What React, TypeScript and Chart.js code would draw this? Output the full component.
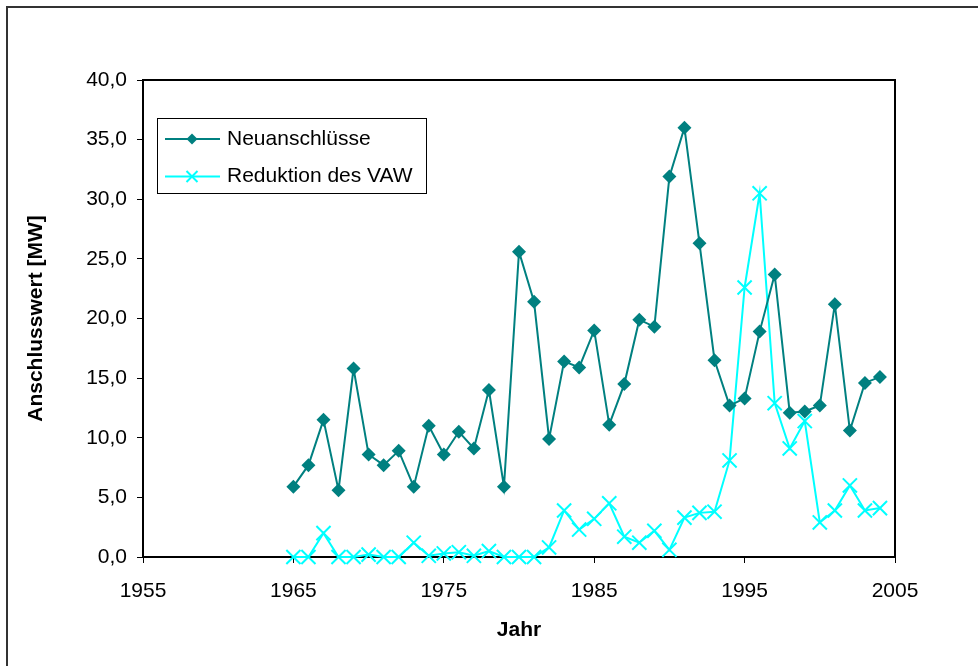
import React, { useEffect, useRef } from "react";
import { Chart, registerables } from "chart.js";

Chart.register(...registerables);

// ---- data ----
const years = [
  1965, 1966, 1967, 1968, 1969, 1970, 1971, 1972, 1973, 1974,
  1975, 1976, 1977, 1978, 1979, 1980, 1981, 1982, 1983, 1984,
  1985, 1986, 1987, 1988, 1989, 1990, 1991, 1992, 1993, 1994,
  1995, 1996, 1997, 1998, 1999, 2000, 2001, 2002, 2003, 2004,
];
const neuanschluesse = [
  5.9, 7.7, 11.5, 5.6, 15.8, 8.6, 7.7, 8.9, 5.9, 11.0,
  8.6, 10.5, 9.1, 14.0, 5.9, 25.6, 21.4, 9.9, 16.4, 15.9,
  19.0, 11.1, 14.5, 19.9, 19.3, 31.9, 36.0, 26.3, 16.5, 12.7,
  13.3, 18.9, 23.7, 12.1, 12.2, 12.7, 21.2, 10.6, 14.6, 15.1,
];
const reduktion = [
  0.0, 0.0, 2.0, 0.0, 0.0, 0.2, 0.0, 0.0, 1.2, 0.1,
  0.3, 0.4, 0.1, 0.5, 0.0, 0.0, 0.0, 0.8, 3.9, 2.3,
  3.2, 4.5, 1.7, 1.2, 2.2, 0.6, 3.3, 3.7, 3.8, 8.1,
  22.6, 30.5, 12.9, 9.1, 11.4, 2.9, 3.9, 6.0, 3.9, 4.1,
];
const seriesNames = ["Neuanschlüsse", "Reduktion des VAW"];
const xTickValues = [1955, 1965, 1975, 1985, 1995, 2005];
const yTickValues = [0, 5, 10, 15, 20, 25, 30, 35, 40];
const xTitle = "Jahr";
const yTitle = "Anschlusswert [MW]";

const TEAL = "#008080";
const CYAN = "#00FFFF";
const FONT = "'Liberation Sans', Arial, sans-serif";
const FS = 21;

const boxPlugin = {
  id: "plotBox",
  beforeDatasetsDraw(chart: any) {
    const { ctx, chartArea: a } = chart;
    ctx.save();
    ctx.strokeStyle = "#000";
    ctx.lineWidth = 2;
    ctx.strokeRect(a.left, a.top, a.right - a.left, a.bottom - a.top);
    ctx.restore();
  },
};

function drawDiamond(ctx: CanvasRenderingContext2D, x: number, y: number, r: number, color: string) {
  ctx.beginPath();
  ctx.moveTo(x, y - r);
  ctx.lineTo(x + r, y);
  ctx.lineTo(x, y + r);
  ctx.lineTo(x - r, y);
  ctx.closePath();
  ctx.fillStyle = color;
  ctx.fill();
}

function drawCross(ctx: CanvasRenderingContext2D, x: number, y: number, r: number, color: string) {
  ctx.beginPath();
  ctx.moveTo(x - r, y - r);
  ctx.lineTo(x + r, y + r);
  ctx.moveTo(x - r, y + r);
  ctx.lineTo(x + r, y - r);
  ctx.strokeStyle = color;
  ctx.lineWidth = 2;
  ctx.stroke();
}

const legendPlugin = {
  id: "insetLegend",
  afterDraw(chart: any) {
    const { ctx, chartArea: a } = chart;
    const left = a.left + 14;
    const top = a.top + 38;
    const w = 269;
    const h = 75;
    ctx.save();
    ctx.fillStyle = "#fff";
    ctx.fillRect(left, top, w, h);
    ctx.strokeStyle = "#000";
    ctx.lineWidth = 1;
    ctx.strokeRect(left + 0.5, top + 0.5, w, h);
    const rows = [top + 21, top + 58.5];
    chart.data.datasets.forEach((ds: any, i: number) => {
      const y = rows[i];
      ctx.strokeStyle = ds.borderColor;
      ctx.lineWidth = 2;
      ctx.beginPath();
      ctx.moveTo(left + 8, y);
      ctx.lineTo(left + 63, y);
      ctx.stroke();
      if (i === 0) drawDiamond(ctx, left + 35, y, 5.5, ds.borderColor);
      else drawCross(ctx, left + 35, y, 5.5, ds.borderColor);
      ctx.fillStyle = "#000";
      ctx.font = `${FS}px ${FONT}`;
      ctx.textBaseline = "middle";
      ctx.textAlign = "left";
      ctx.fillText(ds.label, left + 70, y);
    });
    ctx.restore();
  },
};

export default function App() {
  const canvasRef = useRef<HTMLCanvasElement | null>(null);

  useEffect(() => {
    if (!canvasRef.current) return;
    const chart = new Chart(canvasRef.current, {
      type: "line",
      data: {
        datasets: [
          {
            label: seriesNames[0],
            data: years.map((yr, i) => ({ x: yr, y: neuanschluesse[i] })),
            borderColor: TEAL,
            backgroundColor: TEAL,
            borderWidth: 2,
            pointStyle: "rectRot",
            pointRadius: 7,
            pointBorderWidth: 0,
            pointBackgroundColor: TEAL,
            pointBorderColor: TEAL,
            tension: 0,
            clip: false,
          } as any,
          {
            label: seriesNames[1],
            data: years.map((yr, i) => ({ x: yr, y: reduktion[i] })),
            borderColor: CYAN,
            backgroundColor: CYAN,
            borderWidth: 2,
            pointStyle: "crossRot",
            pointRadius: 10,
            pointBorderWidth: 2,
            pointBorderColor: CYAN,
            pointBackgroundColor: CYAN,
            tension: 0,
            clip: false,
          } as any,
        ],
      },
      options: {
        animation: false,
        responsive: false,
        devicePixelRatio: 1,
        layout: { padding: { left: 0, top: 80, right: 83, bottom: 0 } },
        plugins: {
          legend: { display: false },
          tooltip: { enabled: false },
        },
        scales: {
          x: {
            type: "linear",
            min: 1955,
            max: 2005,
            afterBuildTicks: (scale: any) => {
              scale.ticks = xTickValues.map((v) => ({ value: v }));
            },
            afterFit: (scale: any) => {
              scale.height = 109;
            },
            ticks: {
              autoSkip: false,
              maxRotation: 0,
              padding: 16,
              color: "#000",
              font: { family: FONT, size: FS },
              callback: (v: any) => String(v),
            },
            grid: {
              display: true,
              drawOnChartArea: false,
              drawTicks: true,
              tickLength: 6,
              color: "#000",
              lineWidth: 1,
            },
            border: { display: false },
            title: {
              display: true,
              text: xTitle,
              color: "#000",
              font: { family: FONT, size: FS, weight: "bold" },
              padding: { top: 0, bottom: 23 },
            },
          },
          y: {
            type: "linear",
            min: 0,
            max: 40,
            afterBuildTicks: (scale: any) => {
              scale.ticks = yTickValues.map((v) => ({ value: v }));
            },
            afterFit: (scale: any) => {
              scale.width = 143;
            },
            ticks: {
              padding: 10,
              color: "#000",
              font: { family: FONT, size: FS },
              callback: (v: any) => Number(v).toFixed(1).replace(".", ","),
            },
            grid: {
              display: true,
              drawOnChartArea: false,
              drawTicks: true,
              tickLength: 6,
              color: "#000",
              lineWidth: 1,
            },
            border: { display: false },
            title: {
              display: true,
              text: yTitle,
              color: "#000",
              font: { family: FONT, size: FS, weight: "bold" },
              padding: { top: 24, bottom: 0 },
            },
          },
        },
      } as any,
      plugins: [boxPlugin, legendPlugin],
    });
    return () => chart.destroy();
  }, []);

  return (
    <div
      style={{
        position: "absolute",
        left: 0,
        top: 0,
        width: 978,
        height: 666,
        overflow: "hidden",
        background: "#fff",
      }}
    >
      <div
        style={{
          position: "absolute",
          left: 6,
          top: 6,
          width: 1100,
          height: 800,
          border: "2px solid #333",
        }}
      />
      <canvas
        ref={canvasRef}
        width={978}
        height={666}
        style={{ position: "absolute", left: 0, top: 0 }}
      />
    </div>
  );
}
